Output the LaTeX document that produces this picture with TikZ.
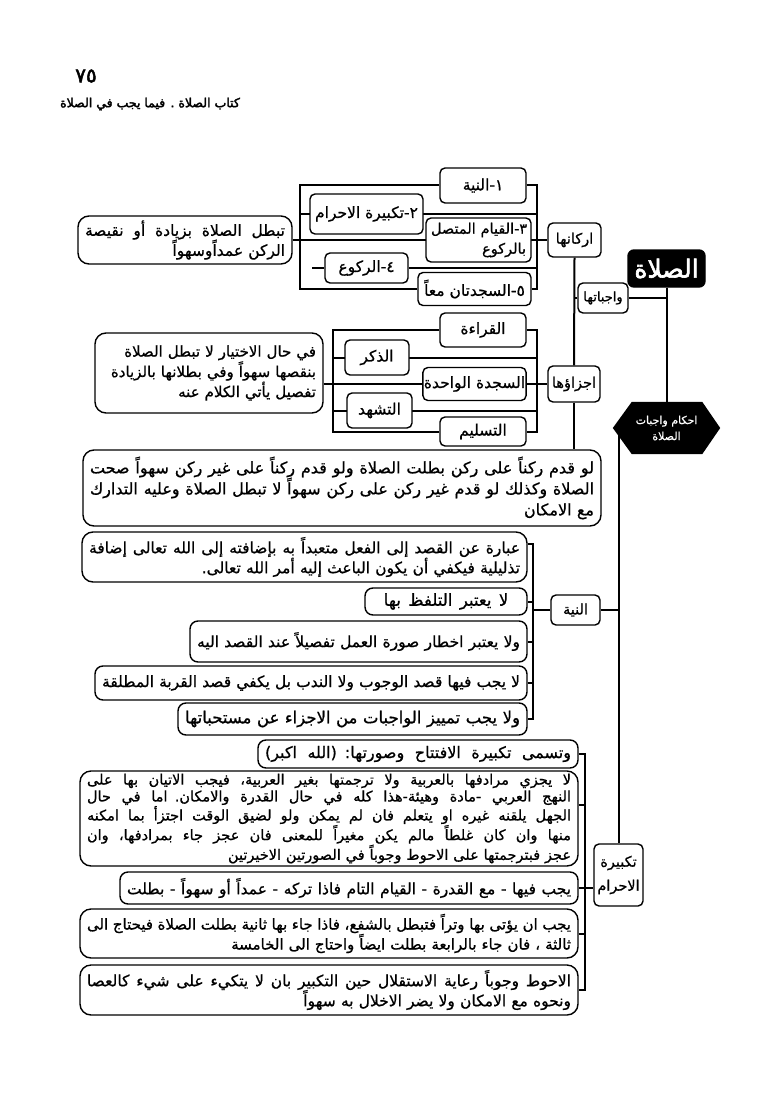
\documentclass[tikz,border=0pt]{standalone}
\usepackage{fontspec}
\usetikzlibrary{backgrounds}
\TeXXeTstate=1
\newfontfamily\ar[Script=Arabic,FakeBold=0.8]{DejaVu Sans}
\newfontfamily\arbold[Script=Arabic,FakeBold=2.5]{DejaVu Sans}
\newcommand\R[1]{\beginR #1\endR}
\newcommand\JL[1]{\hbox to \hsize{\spaceskip=\fontdimen2\font plus 1fil minus 0.1em\relax\beginR #1\endR}}
\newcommand\RL[1]{\hbox to \hsize{\hfill\beginR #1\endR}}
\newcommand\CL[1]{\hbox to \hsize{\spaceskip=0.45em\relax\hfil\beginR #1\endR\hfil}}
\newcommand\Lines[1]{\vbox{#1}}
\begin{document}
\begin{tikzpicture}[x=1pt,y=-1pt,
  box/.style={draw, line width=1.4pt, rounded corners=5pt, fill=white, inner sep=1pt, align=center, font=\ar\fontsize{15.5}{18}\selectfont},
  pbox/.style={draw, line width=1.4pt, rounded corners=11pt, fill=white, inner xsep=7pt, inner ysep=1pt, font=\ar\fontsize{15.5}{20}\selectfont},
  sbox/.style={pbox, rounded corners=8pt},
  conn/.style={line width=2pt},
]
\path[use as bounding box] (0,0) rectangle (781,1118);

% header
\node[font=\arbold\fontsize{20}{20}\selectfont] (pg) at (86,76) {\R{٧٥}};
\node[font=\arbold\fontsize{12.5}{12}\selectfont] (hdr) at (150,104) {\R{كتاب الصلاة . فيما يجب في الصلاة}};

% main column
\node[draw, fill=black, text=white, rounded corners=6pt, line width=1.4pt, minimum width=77pt, minimum height=37pt, inner sep=1pt, font=\arbold\fontsize{25}{26}\selectfont] (salat) at (666.5,268.5) {\R{الصلاة}};
\node[box, minimum width=53pt, minimum height=34pt, font=\ar\fontsize{14.5}{18}\selectfont] (arkan) at (574.5,240) {\R{اركانها}};
\node[box, minimum width=50pt, minimum height=30pt, font=\ar\fontsize{13}{15}\selectfont] (wajibat) at (603,298) {\R{واجباتها}};
\node[box, minimum width=52pt, minimum height=36pt, font=\ar\fontsize{14.5}{18}\selectfont] (ajza) at (574,384) {\R{اجزاؤها}};
\node[minimum width=107pt, minimum height=52pt, inner sep=1pt, text=white, align=center, font=\ar\fontsize{11}{16}\selectfont] (hex) at (666.5,428) {\R{احكام واجبات}\\\R{الصلاة}};

% arkan group
\node[box, minimum width=86pt, minimum height=35pt] (r1) at (483,185.5) {\R{١-النية}};
\node[box, minimum width=113pt, minimum height=40pt] (r2) at (366.5,214) {\R{٢-تكبيرة الاحرام}};
\node[box, minimum width=105pt, minimum height=44pt, text width=95pt, font=\ar\fontsize{14.5}{20}\selectfont] (r3) at (478.5,240) {\Lines{\RL{٣-القيام المتصل}\RL{بالركوع}}};
\node[box, minimum width=83pt, minimum height=30pt] (r4) at (366.5,268) {\R{٤-الركوع}};
\node[box, minimum width=113pt, minimum height=33pt] (r5) at (474.5,289) {\R{٥-السجدتان معاً}};
\node[pbox, text width=200pt, minimum height=48pt, font=\ar\fontsize{15.5}{20}\selectfont] (rl) at (185,240) {\Lines{\JL{تبطل الصلاة بزيادة أو نقيصة}\RL{الركن عمداًوسهواً}}};

% ajza group
\node[box, minimum width=86pt, minimum height=34pt] (j1) at (483,330) {\R{القراءة}};
\node[box, minimum width=64pt, minimum height=35pt] (j2) at (377,357.5) {\R{الذكر}};
\node[box, minimum width=103pt, minimum height=33pt] (j3) at (474.5,384) {\R{السجدة الواحدة}};
\node[box, minimum width=65pt, minimum height=35pt] (j4) at (379.5,410.5) {\R{التشهد}};
\node[box, minimum width=86pt, minimum height=29pt] (j5) at (483,431.5) {\R{التسليم}};
\node[pbox, text width=214pt, minimum height=80pt, font=\ar\fontsize{15}{19}\selectfont] (jl) at (209,373) {\Lines{\RL{في حال الاختيار لا تبطل الصلاة}\RL{بنقصها سهواً وفي بطلانها بالزيادة}\RL{تفصيل يأتي الكلام عنه}}};

\node[pbox, text width=504pt, minimum height=76pt, font=\ar\fontsize{16}{21}\selectfont] (law) at (342,488) {\Lines{\JL{لو قدم ركناً على ركن بطلت الصلاة ولو قدم ركناً على غير ركن سهواً صحت}\JL{الصلاة وكذلك لو قدم غير ركن على ركن سهواً لا تبطل الصلاة وعليه التدارك}\RL{مع الامكان}}};

% niyya group
\node[box, minimum width=49pt, minimum height=30pt, font=\ar\fontsize{14.5}{18}\selectfont] (niyya) at (575.5,610) {\R{النية}};
\node[pbox, text width=431pt, minimum height=50pt, font=\ar\fontsize{15.5}{20}\selectfont] (n0) at (304.5,557) {\Lines{\JL{عبارة عن القصد إلى الفعل متعبداً به بإضافته إلى الله تعالى إضافة}\RL{تذليلية فيكفي أن يكون الباعث إليه أمر الله تعالى.}}};
\node[sbox, text width=148pt, minimum height=27pt, font=\ar\fontsize{16.5}{20}\selectfont] (n1) at (446,601.5) {\CL{لا يعتبر التلفظ بها}};
\node[sbox, text width=323pt, minimum height=41pt] (n2) at (358.5,641.5) {\JL{ولا يعتبر اخطار صورة العمل تفصيلاً عند القصد اليه}};
\node[sbox, text width=418pt, minimum height=34pt] (n3) at (311,683) {\JL{لا يجب فيها قصد الوجوب ولا الندب بل يكفي قصد القربة المطلقة}};
\node[sbox, text width=335pt, minimum height=32pt, font=\ar\fontsize{16.5}{20}\selectfont] (n4) at (352.5,719) {\JL{ولا يجب تمييز الواجبات من الاجزاء عن مستحباتها}};

% takbira group
\node[box, minimum width=49pt, minimum height=62pt, font=\ar\fontsize{14.5}{24}\selectfont] (tkb) at (618.5,875) {\R{تكبيرة}\\\R{الاحرام}};
\node[sbox, text width=306pt, minimum height=28pt, font=\ar\fontsize{16}{20}\selectfont] (t0) at (418,754) {\JL{وتسمى تكبيرة الافتتاح وصورتها: (الله اكبر)}};
\node[pbox, text width=484pt, minimum height=95pt, font=\ar\fontsize{14.5}{16.8}\selectfont] (t1) at (329,818.5) {\Lines{\JL{لا يجزي مرادفها بالعربية ولا ترجمتها بغير العربية، فيجب الاتيان بها على}\JL{النهج العربي -مادة وهيئة-هذا كله في حال القدرة والامكان. اما في حال}\JL{الجهل يلقنه غيره او يتعلم فان لم يمكن ولو لضيق الوقت اجتزأ بما امكنه}\JL{منها وان كان غلطاً مالم يكن مغيراً للمعنى فان عجز جاء بمرادفها، وان}\RL{عجز فبترجمتها على الاحوط وجوباً في الصورتين الاخيرتين}}};
\node[sbox, text width=444pt, minimum height=32pt] (t2) at (349,888) {\JL{يجب فيها - مع القدرة - القيام التام فاذا تركه - عمداً أو سهواً - بطلت}};
\node[pbox, text width=484pt, minimum height=49pt, font=\ar\fontsize{15}{20}\selectfont] (t3) at (329,933.5) {\Lines{\JL{يجب ان يؤتى بها وتراً فتبطل بالشفع، فاذا جاء بها ثانية بطلت الصلاة فيحتاج الى}\RL{ثالثة ، فان جاء بالرابعة بطلت ايضاً واحتاج الى الخامسة}}};
\node[pbox, text width=484pt, minimum height=50pt, font=\ar\fontsize{15.5}{20}\selectfont] (t4) at (329,990) {\Lines{\JL{الاحوط وجوباً رعاية الاستقلال حين التكبير بان لا يتكيء على شيء كالعصا}\RL{ونحوه مع الامكان ولا يضر الاخلال به سهواً}}};

% coordinates for brackets
\coordinate (rkL) at (300,185);
\coordinate (rkR) at (537,185);
\coordinate (r4s) at (312,268);
\coordinate (jL) at (333,330);
\coordinate (jR) at (537,330);
\coordinate (nv) at (533,545);
\coordinate (tv) at (585,754);
\coordinate (n0c) at ([yshift=-13pt]n0.north east);
\coordinate (t1c) at ([yshift=14pt]t1.east);

\begin{scope}[on background layer]
\fill[white] (0,0) rectangle (781,1118);
% arkan
\draw[conn] (r1.west) -| (rkL |- r5.west) -- (r5.west);
\draw[conn] (r1.east) -| (rkR |- r5.east) -- (r5.east);
\draw[conn] (rkL |- r2.west) -- (rkR |- r2.east);
\draw[conn] (rl.east) -- (arkan.west);
\draw[conn] (r4s) -- (r4.west);
\draw[conn] (r4.east) -- (rkR |- r4.east);
% ajza
\draw[conn] (j1.west) -| (jL |- j5.west) -- (j5.west);
\draw[conn] (j1.east) -| (jR |- j5.east) -- (j5.east);
\draw[conn] (jL |- j2.west) -- (jR |- j2.east);
\draw[conn] (jL |- j4.west) -- (jR |- j4.east);
\draw[conn] (jl.east |- j3.west) -- (j3.west);
\draw[conn] (j3.east) -- (ajza.west);
% main
\draw[conn] (arkan.south) -- (ajza.north);
\draw[conn] (ajza.south) -- (ajza.south |- law.north);
\draw[conn] (wajibat.west) -- (wajibat.west -| arkan.south);
\draw[conn] (wajibat.east) -- (wajibat.east -| salat.south);
\draw[conn] (salat.south) -- (hex.north);
\draw[conn] (tkb.north |- hex.center) -- (tkb.north);
\draw[conn] (niyya.east) -- (niyya.east -| tkb.north);
% niyya
\draw[conn] (n0c) -| (nv |- n4.east) -- (n4.east);
\draw[conn] (n1.east) -- (nv |- n1.east);
\draw[conn] (n2.east) -- (nv |- n2.east);
\draw[conn] (n3.east) -- (nv |- n3.east);
\draw[conn] (niyya.west) -- (nv |- niyya.west);
% takbira
\draw[conn] (t0.east) -| (tv |- t4.east) -- (t4.east);
\draw[conn] (t1c) -- (tv |- t1c);
\draw[conn] (t2.east) -- (tkb.west |- t2.east);
\draw[conn] (t3.east) -- (tv |- t3.east);
% hexagon
\fill[black] (hex.west) -- ([xshift=19pt]hex.north west) -- ([xshift=-18pt]hex.north east) -- (hex.east) -- ([xshift=-18pt]hex.south east) -- ([xshift=19pt]hex.south west) -- cycle;
\end{scope}
\end{tikzpicture}
\end{document}
